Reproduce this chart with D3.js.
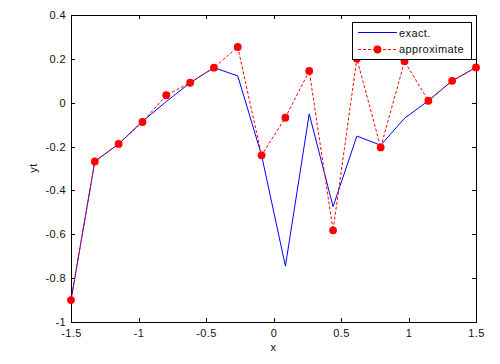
<!DOCTYPE html>
<html><head><meta charset="utf-8">
<script src="https://cdn.jsdelivr.net/npm/d3@7"></script>
<style>body{margin:0;background:#fff}svg{display:block}text{font-family:"Liberation Sans",Arial,sans-serif;font-size:11px;fill:#111;letter-spacing:0.4px}</style>
</head><body>
<script>
const xs = [-1.5,-1.3235,-1.1471,-0.9706,-0.7941,-0.6176,-0.4412,-0.2647,-0.0882,0.0882,0.2647,0.4412,0.6176,0.7941,0.9706,1.1471,1.3235,1.5];
const exact = [-0.9,-0.268,-0.188,-0.085,0.005,0.091,0.16,0.122,-0.24,-0.745,-0.051,-0.474,-0.152,-0.194,-0.071,0.009,0.1,0.161];
const approx = [-0.9,-0.268,-0.188,-0.088,0.034,0.091,0.16,0.254,-0.24,-0.068,0.145,-0.582,0.201,-0.204,0.189,0.009,0.1,0.161];
const xTicks = [-1.5,-1,-0.5,0,0.5,1,1.5];
const yTicks = [-1,-0.8,-0.6,-0.4,-0.2,0,0.2,0.4];
const legendLabels = ["exact.","approximate"];

const W=500,H=364, L=71,R=476,T=15,B=322;
const svg=d3.select("body").append("svg").attr("width",W).attr("height",H);
const x=d3.scaleLinear().domain([-1.5,1.5]).range([L,R]);
const y=d3.scaleLinear().domain([-1,0.4]).range([B,T]);
const fmt=d=>String(+d.toFixed(2));

svg.append("rect").attr("x",L).attr("y",T).attr("width",R-L).attr("height",B-T).attr("fill","none").attr("stroke","#000").attr("stroke-width",1).attr("shape-rendering","crispEdges");
const tk=4;
svg.append("g").attr("transform",`translate(0,${B})`).call(d3.axisBottom(x).tickValues(xTicks).tickSizeInner(-tk).tickSizeOuter(0).tickPadding(7).tickFormat(fmt)).call(g=>g.select(".domain").remove());
svg.append("g").attr("transform",`translate(0,${T})`).call(d3.axisTop(x).tickValues(xTicks).tickSizeInner(-tk).tickSizeOuter(0).tickFormat("")).call(g=>g.select(".domain").remove());
svg.append("g").attr("transform",`translate(${L},0)`).call(d3.axisLeft(y).tickValues(yTicks).tickSizeInner(-tk).tickSizeOuter(0).tickPadding(5).tickFormat(fmt)).call(g=>g.select(".domain").remove());
svg.append("g").attr("transform",`translate(${R},0)`).call(d3.axisRight(y).tickValues(yTicks).tickSizeInner(-tk).tickSizeOuter(0).tickFormat("")).call(g=>g.select(".domain").remove());
svg.selectAll(".tick line").attr("stroke","#000").attr("shape-rendering","crispEdges");
svg.selectAll(".tick text").attr("font-family","Liberation Sans, Arial, sans-serif").attr("font-size","11px").attr("fill","#111");

const line=d3.line().x((d,i)=>x(xs[i])).y(d=>y(d));
svg.append("path").datum(exact).attr("d",line).attr("fill","none").attr("stroke","#0000ff").attr("stroke-width",1);
svg.append("path").datum(approx).attr("d",line).attr("fill","none").attr("stroke","#ff0000").attr("stroke-width",1).attr("stroke-dasharray","3,2");
svg.append("g").selectAll("circle").data(approx).join("circle").attr("cx",(d,i)=>x(xs[i])).attr("cy",d=>y(d)).attr("r",3.9).attr("fill","#ff0000");

svg.append("text").attr("x",(L+R)/2).attr("y",351).attr("text-anchor","middle").text("x");
svg.append("text").attr("transform","translate(37,168) rotate(-90)").attr("text-anchor","middle").text("yt");

const lg=svg.append("g");
lg.append("rect").attr("x",352).attr("y",22).attr("width",119).attr("height",37).attr("fill","#fff").attr("stroke","#000").attr("shape-rendering","crispEdges");
lg.append("line").attr("x1",358).attr("x2",397).attr("y1",32.5).attr("y2",32.5).attr("stroke","#0000ff");
lg.append("line").attr("x1",358).attr("x2",397).attr("y1",49.5).attr("y2",49.5).attr("stroke","#ff0000").attr("stroke-dasharray","3,2");
lg.append("circle").attr("cx",377.5).attr("cy",49.5).attr("r",3.9).attr("fill","#ff0000");
lg.selectAll("text.lab").data(legendLabels).join("text").attr("class","lab").attr("x",399).attr("y",(d,i)=>36.5+i*16.8).text(d=>d);
</script>
</body></html>
